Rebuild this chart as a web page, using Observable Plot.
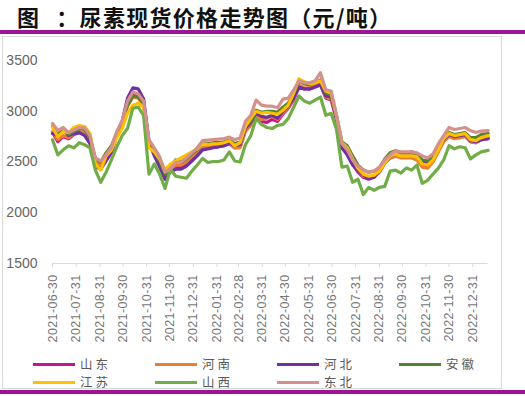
<!DOCTYPE html>
<html><head><meta charset="utf-8">
<script src="https://cdn.jsdelivr.net/npm/d3@7"></script>
<script src="https://cdn.jsdelivr.net/npm/@observablehq/plot@0.6"></script>
<style>
body{margin:0;width:525px;height:396px;position:relative;background:#fff;overflow:hidden;font-family:"Noto Sans CJK SC",sans-serif;}
#title{position:absolute;left:17px;top:3px;font-size:22px;font-weight:bold;color:#111;line-height:26px;letter-spacing:1.3px;white-space:nowrap}
.bar{position:absolute;left:0;width:525px;height:4px;background:#9B1595}
#box{position:absolute;left:2px;top:36px;width:500px;height:353px;border:1px solid #d9d9d9;box-sizing:border-box}
#chart{position:absolute;left:0;top:40px}
#chart g[aria-label="x-axis tick label"] text{letter-spacing:0.4px}
#legend{position:absolute;left:33px;top:355px;display:grid;grid-template-columns:repeat(4,122px)}
.item{display:flex;align-items:center;height:18px;line-height:18px;font-size:12.5px;color:#595959;letter-spacing:3px}
.swatch{width:42px;height:3px;margin-right:5px;flex:none}
</style></head>
<body>
<div id="title"><span>图</span><span style="margin-left:16px">：尿素现货价格走势图（元/吨）</span></div>
<div class="bar" style="top:30px"></div>
<div id="box"></div>
<div id="chart"></div>
<div id="legend"></div>
<div class="bar" style="top:390px"></div>
<script>
const dates = ["2021-06-30","2021-07-07","2021-07-14","2021-07-21","2021-07-28","2021-08-04","2021-08-11","2021-08-18","2021-08-25","2021-09-01","2021-09-08","2021-09-15","2021-09-22","2021-09-29","2021-10-06","2021-10-13","2021-10-20","2021-10-27","2021-11-03","2021-11-10","2021-11-17","2021-11-24","2021-12-01","2021-12-08","2021-12-15","2021-12-22","2021-12-29","2022-01-05","2022-01-12","2022-01-19","2022-01-26","2022-02-02","2022-02-09","2022-02-16","2022-02-23","2022-03-02","2022-03-09","2022-03-16","2022-03-23","2022-03-30","2022-04-06","2022-04-13","2022-04-20","2022-04-27","2022-05-04","2022-05-11","2022-05-18","2022-05-25","2022-06-01","2022-06-08","2022-06-15","2022-06-22","2022-06-29","2022-07-06","2022-07-13","2022-07-20","2022-07-27","2022-08-03","2022-08-10","2022-08-17","2022-08-24","2022-08-31","2022-09-07","2022-09-14","2022-09-21","2022-09-28","2022-10-05","2022-10-12","2022-10-19","2022-10-26","2022-11-02","2022-11-09","2022-11-16","2022-11-23","2022-11-30","2022-12-07","2022-12-14","2022-12-21","2022-12-28","2023-01-04","2023-01-11","2023-01-20"];

const shandong = [2790,2700,2750,2730,2770,2790,2770,2690,2490,2460, 2530,2600,2760,2870,3070,3170,3160,3090,2690,2580, 2480,2350,2410,2460,2450,2490,2540,2580,2630,2640, 2650,2650,2660,2680,2640,2650,2810,2870,2950,2900, 2890,2920,2900,2970,3030,3110,3240,3220,3220,3240, 3260,3130,3110,2920,2640,2580,2480,2400,2350,2330, 2350,2400,2490,2540,2560,2550,2550,2560,2540,2480, 2460,2510,2610,2710,2760,2740,2740,2760,2700,2690, 2720,2730];
const henan = [2800,2720,2760,2740,2780,2800,2790,2700,2500,2470, 2540,2600,2760,2860,3050,3140,3130,3060,2680,2590, 2490,2360,2420,2470,2470,2500,2550,2590,2640,2650, 2660,2660,2670,2690,2640,2640,2800,2860,2960,2920, 2930,2950,2920,2980,3040,3120,3260,3230,3230,3250, 3270,3140,3120,2930,2660,2600,2500,2420,2360,2350, 2360,2400,2490,2540,2560,2540,2540,2540,2520,2450, 2440,2500,2600,2700,2750,2730,2740,2750,2700,2690, 2720,2740];
const hebei = [2780,2760,2820,2760,2780,2790,2760,2680,2450,2430, 2510,2590,2770,2900,3130,3230,3220,3120,2700,2560, 2450,2330,2400,2430,2430,2460,2510,2560,2620,2630, 2640,2650,2660,2690,2660,2670,2830,2890,2980,2950, 2940,2960,2930,3000,3050,3130,3240,3220,3220,3240, 3260,3150,3140,2920,2640,2570,2470,2420,2370,2340, 2350,2410,2500,2560,2580,2580,2580,2600,2580,2500, 2490,2530,2630,2720,2770,2750,2760,2770,2710,2700, 2720,2730];
const anhui = [2850,2770,2810,2770,2800,2830,2820,2740,2530,2500, 2590,2660,2790,2880,3060,3150,3140,3070,2700,2600, 2510,2380,2450,2520,2500,2530,2580,2620,2680,2680, 2690,2690,2700,2720,2680,2700,2860,2900,3010,2990, 3000,3000,2990,3040,3080,3170,3300,3270,3260,3280, 3310,3180,3160,2960,2700,2660,2560,2470,2420,2400, 2410,2440,2530,2590,2610,2590,2590,2590,2570,2520, 2510,2560,2640,2740,2790,2770,2780,2790,2740,2740, 2770,2780];
const jiangsu = [2840,2750,2800,2790,2840,2860,2850,2780,2480,2420, 2560,2620,2740,2830,2980,3060,3080,3040,2640,2600, 2530,2420,2480,2510,2540,2570,2600,2630,2680,2670, 2680,2680,2690,2710,2660,2690,2850,2930,3000,2980, 2990,2980,2970,3010,3060,3180,3320,3290,3270,3280, 3300,3200,3180,2950,2690,2640,2530,2440,2380,2360, 2370,2410,2490,2560,2580,2560,2560,2560,2550,2480, 2470,2520,2620,2730,2780,2760,2770,2780,2720,2710, 2740,2760];
const shanxi = [2720,2570,2620,2660,2640,2690,2670,2640,2420,2300, 2400,2520,2650,2760,2830,3030,3040,2960,2380,2480, 2380,2240,2430,2360,2350,2340,2410,2470,2535,2495, 2505,2505,2520,2600,2510,2500,2670,2760,2930,2870, 2840,2830,2860,2870,2930,3040,3150,3100,3080,3110, 3140,2960,2980,2820,2450,2460,2300,2330,2180,2250, 2220,2250,2260,2410,2420,2390,2440,2420,2470,2290, 2320,2380,2440,2520,2660,2630,2650,2640,2530,2570, 2600,2615];
const dongbei = [2880,2810,2840,2790,2815,2840,2835,2760,2540,2510, 2570,2650,2800,2910,3100,3190,3170,3100,2720,2640, 2550,2400,2430,2495,2500,2540,2590,2640,2710,2715, 2720,2725,2730,2745,2720,2740,2900,2960,3110,3060, 3050,3050,3035,3120,3130,3210,3300,3280,3280,3300, 3380,3210,3200,2960,2680,2620,2520,2460,2420,2400, 2410,2450,2520,2570,2610,2600,2600,2600,2590,2560, 2540,2580,2680,2760,2840,2820,2830,2840,2810,2790, 2805,2810];

const seriesNames = ["山东","河南","河北","安徽","江苏","山西","东北"];
const seriesValues = [shandong, henan, hebei, anhui, jiangsu, shanxi, dongbei];
const seriesColors = ["#C7158F","#ED7D31","#7030A0","#548235","#FFC000","#70AD47","#D4908A"];
const xTickLabels = ["2021-06-30","2021-07-31","2021-08-31","2021-09-30","2021-10-31","2021-11-30","2021-12-31","2022-01-31","2022-02-28","2022-03-31","2022-04-30","2022-05-31","2022-06-30","2022-07-31","2022-08-31","2022-09-30","2022-10-31","2022-11-30","2022-12-31"];
const yTicks = [1500,2000,2500,3000,3500];

const parse = d3.utcParse("%Y-%m-%d");
const rows = [];
seriesNames.forEach((name, s) => {
  seriesValues[s].forEach((v, i) => rows.push({series: name, date: parse(dates[i]), value: v}));
});

const chart = Plot.plot({
  width: 525, height: 310,
  marginLeft: 52, marginRight: 37.4, marginTop: 20, marginBottom: 87,
  style: {fontFamily: "'Liberation Sans', Arial, sans-serif", background: "transparent"},
  x: {type: "utc", domain: [parse("2021-06-30"), parse("2023-01-20")]},
  y: {domain: [1500, 3500]},
  color: {domain: seriesNames, range: seriesColors},
  marks: [
    Plot.ruleY([1500], {stroke: "#d9d9d9", strokeWidth: 1}),
    Plot.axisY({ticks: yTicks, tickFormat: d => String(d), tickSize: 0, tickPadding: 15, fontSize: 14, fill: "#666", label: null}),
    Plot.axisX({ticks: xTickLabels.map(parse), tickFormat: d3.utcFormat("%Y-%m-%d"), tickRotate: -90, tickSize: 4, tickPadding: 7, fontSize: 12.5, stroke: "#d9d9d9", fill: "#777", label: null}),
    Plot.line(rows, {x: "date", y: "value", stroke: "series", z: "series", strokeWidth: 3.2})
  ]
});
document.getElementById("chart").appendChild(chart);

const legend = document.getElementById("legend");
seriesNames.forEach((name, i) => {
  const it = document.createElement("div");
  it.className = "item";
  const sw = document.createElement("span");
  sw.className = "swatch";
  sw.style.background = seriesColors[i];
  const tx = document.createElement("span");
  tx.textContent = name;
  it.appendChild(sw); it.appendChild(tx);
  legend.appendChild(it);
});
</script>
</body></html>
